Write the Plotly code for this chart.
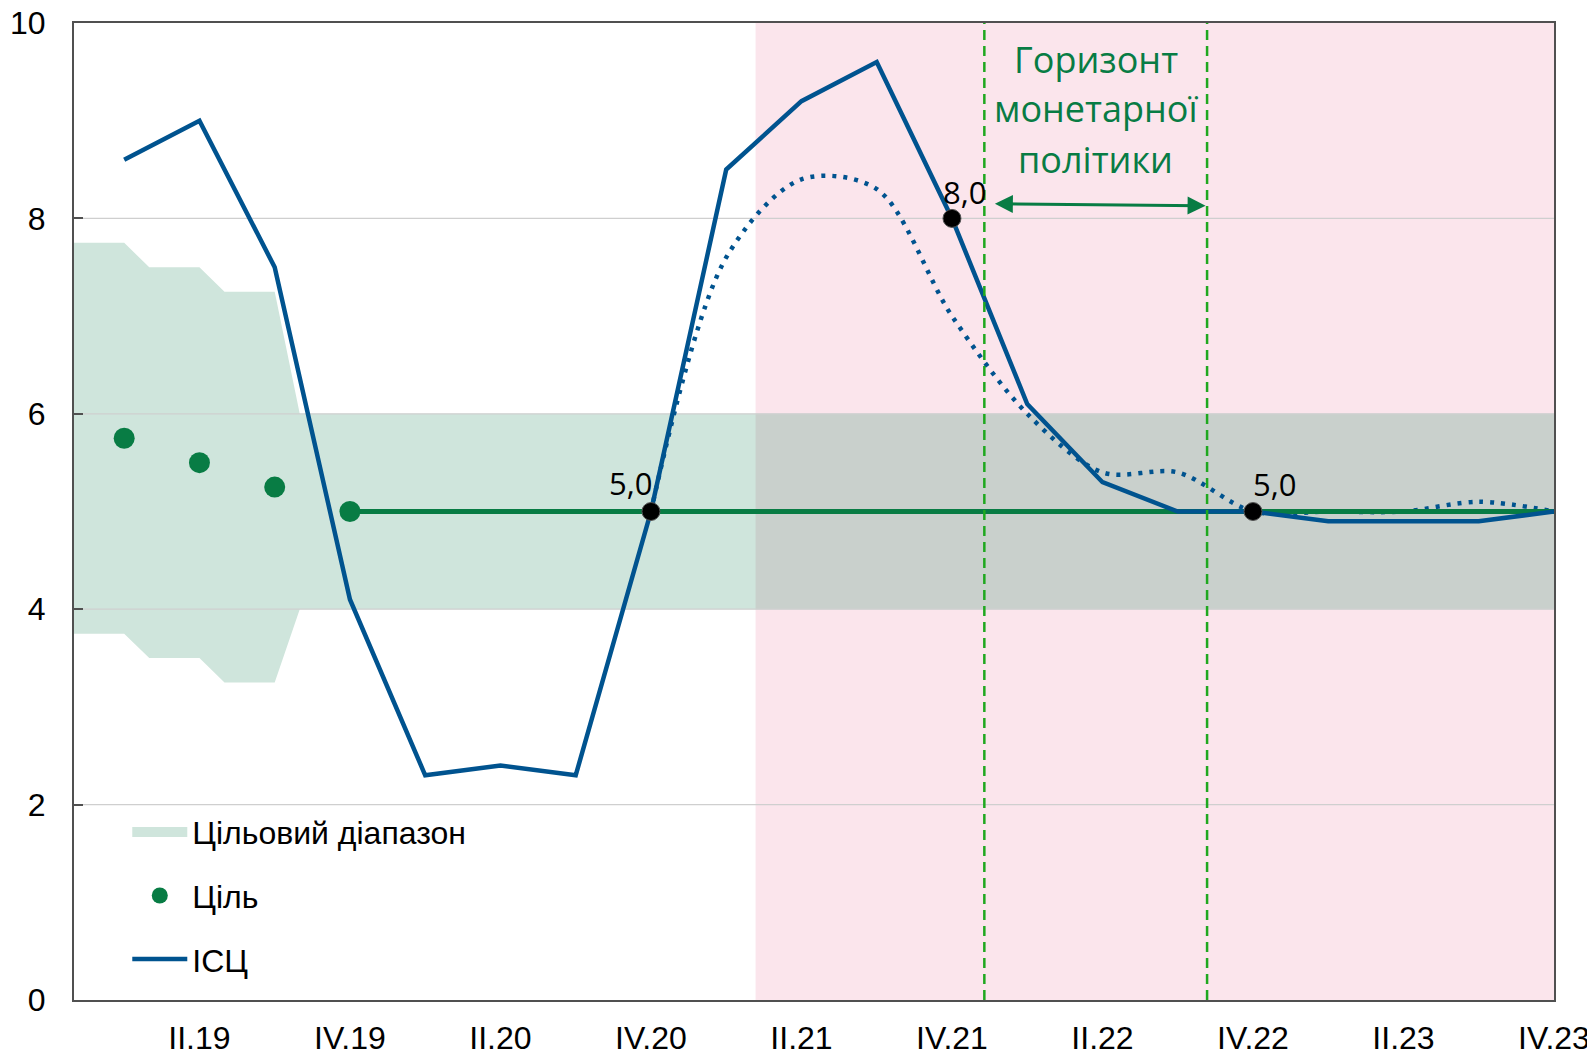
import plotly.graph_objects as go

# ---------------- data ----------------
QUARTERS = ["I.19", "II.19", "III.19", "IV.19",
            "I.20", "II.20", "III.20", "IV.20",
            "I.21", "II.21", "III.21", "IV.21",
            "I.22", "II.22", "III.22", "IV.22",
            "I.23", "II.23", "III.23", "IV.23"]

CPI = [8.6, 9.0, 7.5, 4.1, 2.3, 2.4, 2.3, 5.0,
       8.5, 9.2, 9.6, 8.0, 6.1, 5.3, 5.0, 5.0,
       4.9, 4.9, 4.9, 5.0]

# alternative (dotted) trajectory, from IV.20 on
ALT_START = 7
ALT = [5.0, 7.6, 8.4, 8.3, 7.0, 6.0, 5.4, 5.4, 5.0, 5.0, 5.0, 5.1, 5.0]

TARGET_POINTS = [5.75, 5.5, 5.25, 5.0]          # I.19 .. IV.19
TARGET_LINE_START = 3                             # IV.19
TARGET_LEVEL = 5.0

# target range (monthly steps, x in quarter units from I.19)
BAND_X = [-0.667, 0, 0.333, 1, 1.333, 2, 2.333, 19]
BAND_LOW = [3.75, 3.75, 3.5, 3.5, 3.25, 3.25, 4.0, 4.0]
BAND_HIGH = [7.75, 7.75, 7.5, 7.5, 7.25, 7.25, 6.0, 6.0]

# highlighted points with labels
LABELLED = [7, 11, 15]                            # IV.20, IV.21, IV.22

FORECAST_START = 8.39                             # shaded period start
HORIZON = [11.43, 14.39]                          # policy horizon bounds
HORIZON_ARROW_Y = 8.13
HORIZON_TEXT = ["Горизонт", "монетарної", "політики"]

Y_TICKS = [0, 2, 4, 6, 8, 10]
X_TICKS = list(range(1, 20, 2))

# ---------------- styles ----------------
BLUE = "#00538F"
GREEN = "#087C44"
BAND = "#CFE5DC"
PINK = "#FBE5EC"
OVERLAP = "#C9D0CC"
DASH_GREEN = "#1FA81F"
GRID = "#CFCFCF"
AXIS = "#505050"
FONT = "Liberation Sans, Arial"

x = list(range(len(QUARTERS)))

fig = go.Figure()

# target range band
fig.add_trace(go.Scatter(
    x=BAND_X + BAND_X[::-1], y=BAND_HIGH + BAND_LOW[::-1],
    fill="toself", fillcolor=BAND, line=dict(width=0), mode="lines",
    showlegend=False, legendgroup="a", hoverinfo="skip"))
# legend entry for the band
fig.add_trace(go.Scatter(
    x=[None], y=[None], mode="lines", line=dict(color=BAND, width=15),
    name="Цільовий діапазон", legendgroup="a"))

# overlap of band with forecast shading
ov_x = [FORECAST_START, BAND_X[-1]]
fig.add_trace(go.Scatter(
    x=ov_x + ov_x[::-1], y=[BAND_HIGH[-1]] * 2 + [BAND_LOW[-1]] * 2,
    fill="toself", fillcolor=OVERLAP, line=dict(width=0), mode="lines",
    showlegend=False, hoverinfo="skip"))

# gridlines on top of fills
for t in Y_TICKS[1:-1]:
    fig.add_trace(go.Scatter(
        x=[BAND_X[0], BAND_X[-1]], y=[t, t], mode="lines",
        line=dict(color=GRID, width=1.3), showlegend=False, hoverinfo="skip"))

# dotted alternative path
fig.add_trace(go.Scatter(
    x=x[ALT_START:ALT_START + len(ALT)], y=ALT, mode="lines",
    line=dict(color=BLUE, width=4.5, dash="4px,7px", shape="spline", smoothing=0.9),
    showlegend=False))

# target line
fig.add_trace(go.Scatter(
    x=[x[TARGET_LINE_START], x[-1]], y=[TARGET_LEVEL, TARGET_LEVEL], mode="lines",
    line=dict(color=GREEN, width=5), showlegend=False))

# target points
fig.add_trace(go.Scatter(
    x=x[:len(TARGET_POINTS)], y=TARGET_POINTS, mode="markers",
    marker=dict(color=GREEN, size=21), name="Ціль", legendgroup="b"))

# CPI
fig.add_trace(go.Scatter(
    x=x, y=CPI, mode="lines", line=dict(color=BLUE, width=4.5),
    name="ІСЦ", legendgroup="c"))

# highlighted points
fig.add_trace(go.Scatter(
    x=[x[i] for i in LABELLED], y=[CPI[i] for i in LABELLED], mode="markers",
    marker=dict(color="black", size=18, line=dict(color="#555555", width=1)),
    showlegend=False))

label_shift = [(-20, 29), (13, 26), (22, 28)]
for i, (dx, dy) in zip(LABELLED, label_shift):
    fig.add_annotation(x=x[i], y=CPI[i], text=f"{CPI[i]:.1f}".replace(".", ","),
                       showarrow=False, xshift=dx, yshift=dy,
                       font=dict(family="Open Sans", size=31, color="black"))

# forecast shading
fig.add_shape(type="rect", xref="x", yref="y", x0=FORECAST_START, x1=19,
              y0=0, y1=10, fillcolor=PINK, line=dict(width=0), layer="below")

# horizon lines
for hx in HORIZON:
    fig.add_shape(type="line", xref="x", yref="y", x0=hx, x1=hx, y0=0, y1=10,
                  line=dict(color=DASH_GREEN, width=2.5, dash="10px,6px"), layer="above")

# horizon arrow
fig.add_annotation(x=HORIZON[1] - 0.02, y=HORIZON_ARROW_Y, ax=HORIZON[0] + 0.12,
                   ay=HORIZON_ARROW_Y + 0.02, xref="x", yref="y", axref="x", ayref="y",
                   showarrow=True, arrowhead=2, arrowside="end+start", arrowsize=1.2,
                   arrowwidth=3, arrowcolor=GREEN, text="")

mid = (HORIZON[0] + HORIZON[1]) / 2
for txt, yy in zip(HORIZON_TEXT, [9.63, 9.12, 8.6]):
    fig.add_annotation(x=mid, y=yy, text=txt, showarrow=False,
                       font=dict(family="Open Sans", size=36, color=GREEN))

# page body adds an 8px offset; figure is sized to compensate
fig.update_layout(
    width=1587, height=1045,
    margin=dict(l=66, r=41, t=15, b=53),
    paper_bgcolor="white", plot_bgcolor="white",
    showlegend=True,
    legend=dict(x=0.036, y=0.2, xanchor="left", yanchor="top",
                bgcolor="rgba(0,0,0,0)", tracegroupgap=19,
                font=dict(family=FONT, size=32, color="black"),
                itemwidth=55),
    font=dict(family=FONT, color="black"),
)

fig.update_xaxes(range=[BAND_X[0], 19], tickvals=X_TICKS,
                 ticktext=[QUARTERS[i] for i in X_TICKS],
                 showgrid=False, zeroline=False, showline=True, linecolor=AXIS,
                 linewidth=2, mirror=True, ticks="", ticklabelstandoff=9,
                 automargin=False, ticklabeloverflow="allow",
                 tickfont=dict(size=32, family=FONT, color="black"))
fig.update_yaxes(range=[0, 10], tickvals=Y_TICKS, showgrid=False, zeroline=False,
                 showline=True, linecolor=AXIS, linewidth=2, mirror=True,
                 ticks="inside", ticklen=9, tickwidth=2, tickcolor=AXIS,
                 ticklabelstandoff=20, automargin=False, ticklabeloverflow="allow",
                 tickfont=dict(size=32, family=FONT, color="black"))

fig.write_html("out.html")
